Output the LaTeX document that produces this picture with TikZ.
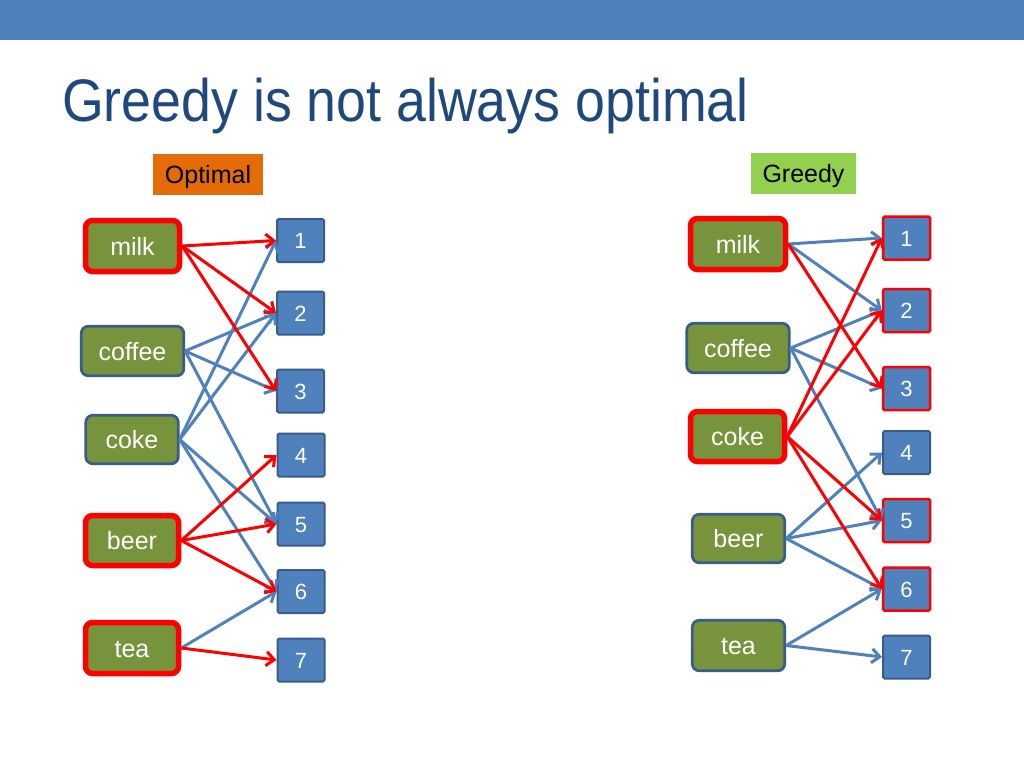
\documentclass[tikz,border=0pt]{standalone}
\usepackage{fontspec}
\setmainfont{Liberation Sans}
\usetikzlibrary{arrows.meta}
\definecolor{band}{HTML}{4F81BD}
\definecolor{titlec}{HTML}{1F497D}
\definecolor{orangec}{HTML}{E36C09}
\definecolor{lgreen}{HTML}{92D050}
\definecolor{item}{HTML}{77933C}
\definecolor{itemb}{HTML}{385D8A}
\definecolor{numf}{HTML}{4F81BD}
\definecolor{redc}{HTML}{FF0000}
\definecolor{bluec}{HTML}{4F81BD}
\tikzset{
  itembox/.style={draw=itemb, line width=2.75pt, fill=item, rounded corners=7pt,
    text=white, font=\fontsize{25}{25}\selectfont, inner sep=0pt, anchor=center,
    text height=18pt, text depth=0pt},
  itemsel/.style={itembox, draw=redc, line width=5.5pt},
  numbox/.style={draw=itemb, line width=2pt, fill=numf, rounded corners=1.5pt,
    text=white, font=\fontsize{22}{22}\selectfont, inner sep=0pt,
    text height=16pt, text depth=0pt,
    minimum width=47pt, minimum height=43pt},
  numsel/.style={numbox, draw=redc, line width=2.5pt},
  tag/.style={inner sep=0pt, font=\fontsize{25}{25}\selectfont, text=black,
    text height=18pt, text depth=0pt},
  edge/.style={line width=3pt, -{Straight Barb[length=8pt,width=14pt,line width=3pt]}},
  redge/.style={edge, draw=redc},
  bedge/.style={edge, draw=bluec},
}
\begin{document}
\begin{tikzpicture}[x=1pt,y=-1pt]
\useasboundingbox (0,0) rectangle (1024,768);
\fill[white] (0,0) rectangle (1024,768);
\fill[band] (0,0) rectangle (1024,40.5);
\node[anchor=base west, inner sep=0pt, text=titlec] (title) at (62,121) {\scalebox{0.895}[1]{\fontsize{60}{60}\selectfont Greedy is not always optimal}};

\node[tag, fill=orangec, minimum width=110pt, minimum height=41pt] (opt) at (208,174) {Optimal};
\node[tag, fill=lgreen, minimum width=105pt, minimum height=41pt] (gre) at (803.5,173.5) {Greedy};

% Left items
\node[itemsel, minimum width=94pt, minimum height=51pt] (Lmilk) at (132.5,246) {milk};
\node[itembox, minimum width=102.5pt, minimum height=49.5pt] (Lcoffee) at (132.5,351) {coffee};
\node[itembox, minimum width=92.5pt, minimum height=48.5pt] (Lcoke) at (132,439.5) {coke};
\node[itemsel, minimum width=93pt, minimum height=50pt] (Lbeer) at (132,540.5) {beer};
\node[itemsel, minimum width=93pt, minimum height=51pt] (Ltea) at (132,648) {tea};

% Left numbers
\node[numbox] (L1) at (300.5,240.5) {1};
\node[numbox] (L2) at (300.5,313) {2};
\node[numbox] (L3) at (300.5,391) {3};
\node[numbox] (L4) at (301,455) {4};
\node[numbox] (L5) at (301,524) {5};
\node[numbox] (L6) at (301,591.5) {6};
\node[numbox] (L7) at (301,660) {7};

% Right items
\node[itemsel, minimum width=95pt, minimum height=51pt] (Rmilk) at (738,244) {milk};
\node[itembox, minimum width=102.5pt, minimum height=49.5pt] (Rcoffee) at (738,348) {coffee};
\node[itemsel, minimum width=94pt, minimum height=50pt] (Rcoke) at (737.5,436.5) {coke};
\node[itembox, minimum width=92.5pt, minimum height=48.5pt] (Rbeer) at (738.5,538.5) {beer};
\node[itembox, minimum width=92.5pt, minimum height=50.5pt] (Rtea) at (738.5,645.5) {tea};

% Right numbers
\node[numsel] (R1) at (906.5,238) {1};
\node[numsel] (R2) at (906.5,310.5) {2};
\node[numsel] (R3) at (906.5,388.5) {3};
\node[numbox] (R4) at (906.5,452.5) {4};
\node[numsel] (R5) at (906.5,520.5) {5};
\node[numsel] (R6) at (906.5,589) {6};
\node[numbox] (R7) at (906.5,657) {7};

% Left edges (blue first, red on top)
\draw[bedge] (Lcoffee.east) -- (L2.west);
\draw[bedge] (Lcoffee.east) -- (L3.west);
\draw[bedge] (Lcoffee.east) -- (L5.west);
\draw[bedge] (Lcoke.east) -- (L1.west);
\draw[bedge] (Lcoke.east) -- (L2.west);
\draw[bedge] (Lcoke.east) -- (L5.west);
\draw[bedge] (Lcoke.east) -- (L6.west);
\draw[bedge] (Ltea.east) -- (L6.west);
\draw[redge] (Lmilk.east) -- (L1.west);
\draw[redge] (Lmilk.east) -- (L2.west);
\draw[redge] (Lmilk.east) -- (L3.west);
\draw[redge] (Lbeer.east) -- (L4.west);
\draw[redge] (Lbeer.east) -- (L5.west);
\draw[redge] (Lbeer.east) -- (L6.west);
\draw[redge] (Ltea.east) -- (L7.west);

% Right edges
\draw[bedge] (Rmilk.east) -- (R1.west);
\draw[bedge] (Rmilk.east) -- (R2.west);
\draw[bedge] (Rcoffee.east) -- (R2.west);
\draw[bedge] (Rcoffee.east) -- (R3.west);
\draw[bedge] (Rcoffee.east) -- (R5.west);
\draw[bedge] (Rbeer.east) -- (R4.west);
\draw[bedge] (Rbeer.east) -- (R5.west);
\draw[bedge] (Rbeer.east) -- (R6.west);
\draw[bedge] (Rtea.east) -- (R6.west);
\draw[bedge] (Rtea.east) -- (R7.west);
\draw[redge] (Rmilk.east) -- (R3.west);
\draw[redge] (Rcoke.east) -- (R1.west);
\draw[redge] (Rcoke.east) -- (R2.west);
\draw[redge] (Rcoke.east) -- (R5.west);
\draw[redge] (Rcoke.east) -- (R6.west);
\end{tikzpicture}
\end{document}
